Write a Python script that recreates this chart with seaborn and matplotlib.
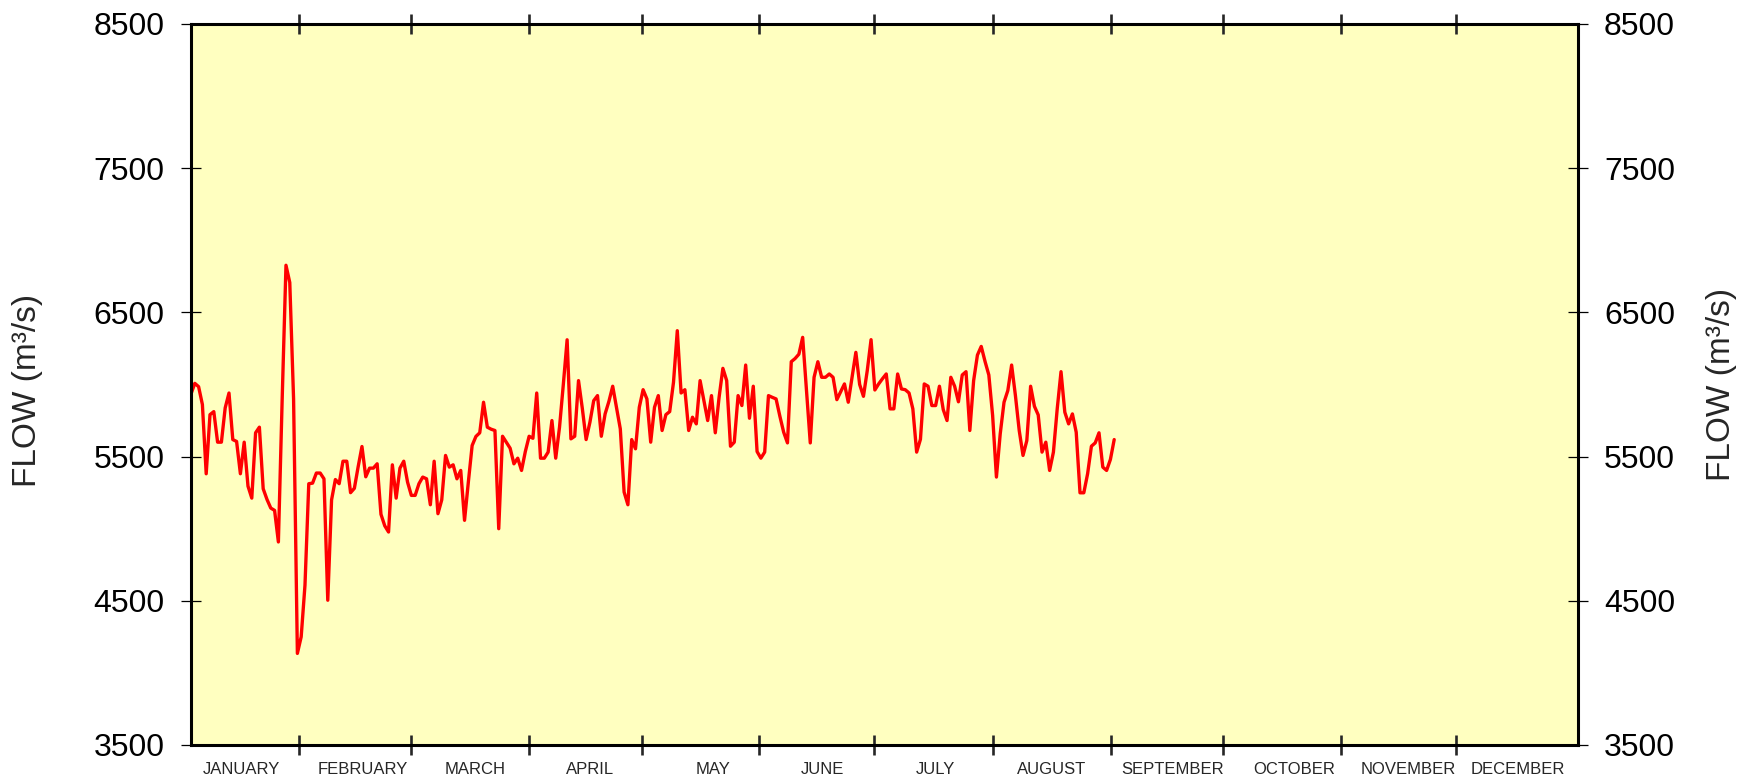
import numpy as np
import pandas as pd
import matplotlib
matplotlib.use("Agg")
import matplotlib.pyplot as plt
import seaborn as sns

sns.set_style("ticks")
plt.rcParams["font.family"] = ["Liberation Sans", "DejaVu Sans"]

# Daily mean flow (m3/s), 1 January onwards
flow_jan = [5934, 6008, 5985, 5861, 5381, 5791, 5812, 5600, 5600, 5838,
            5941, 5618, 5605, 5381, 5600, 5295, 5212, 5665, 5704, 5277,
            5203, 5143, 5127, 4908, 5900, 6827, 6707, 5900, 4135, 4250,
            4608]
flow_feb = [5312, 5316, 5386, 5386, 5346, 4504, 5200, 5341, 5312, 5468,
            5468, 5250, 5280, 5430, 5570, 5360, 5420, 5420, 5450, 5100,
            5020, 4977, 5443, 5212, 5420, 5468, 5323, 5231]
flow_mar = [5231, 5312, 5358, 5346, 5166, 5468, 5104, 5200, 5508, 5427,
            5443, 5346, 5404, 5058, 5323, 5577, 5640, 5665, 5877, 5704,
            5690, 5681, 5000, 5641, 5600, 5558, 5450, 5489, 5404, 5535,
            5641]
flow_apr = [5627, 5941, 5489, 5489, 5531, 5750, 5489, 5704, 6000, 6310,
            5623, 5641, 6027, 5834, 5618, 5738, 5888, 5923, 5641, 5796,
            5883, 5988, 5840, 5692, 5254, 5166, 5618, 5554, 5842, 5964]
flow_may = [5900, 5600, 5842, 5923, 5681, 5791, 5812, 6015, 6373, 5941,
            5964, 5681, 5773, 5727, 6027, 5890, 5750, 5923, 5665, 5911,
            6112, 6027, 5572, 5600, 5923, 5854, 6135, 5766, 5988, 5535,
            5489]
flow_jun = [5531, 5923, 5911, 5900, 5780, 5669, 5595, 6158, 6180, 6210,
            6327, 5961, 5595, 6050, 6158, 6050, 6050, 6073, 6050, 5895,
            5950, 6004, 5877, 6050, 6223, 6000, 5918, 6096, 6311, 5962]
flow_jul = [6004, 6040, 6073, 5831, 5831, 6073, 5969, 5964, 5941, 5831,
            5531, 5620, 6004, 5988, 5854, 5854, 5988, 5826, 5750, 6050,
            5988, 5880, 6066, 6089, 5681, 6027, 6204, 6264, 6160, 6066,
            5785]
flow_aug = [5358, 5658, 5877, 5958, 6135, 5923, 5681, 5508, 5611, 5988,
            5849, 5789, 5531, 5600, 5404, 5531, 5831, 6089, 5808, 5727,
            5796, 5669, 5249, 5249, 5381, 5572, 5595, 5665, 5427, 5404,
            5480, 5618]

flow = flow_jan + flow_feb + flow_mar + flow_apr + flow_may + flow_jun + flow_jul + flow_aug

months = ["JANUARY", "FEBRUARY", "MARCH", "APRIL", "MAY", "JUNE", "JULY",
          "AUGUST", "SEPTEMBER", "OCTOBER", "NOVEMBER", "DECEMBER"]
y_ticks = [3500, 4500, 5500, 6500, 7500, 8500]

# axis layout (day of year)
month_edges = [28.5, 58.0, 89.0, 118.6, 149.6, 179.8, 211.0, 242.1, 271.6, 302.6, 332.9]
month_label_pos = [13.3, 45.3, 74.8, 105.0, 137.5, 166.1, 196.0, 226.6, 258.5, 290.3, 320.5, 349.2]

df = pd.DataFrame({"day": np.arange(len(flow)), "flow": flow})

fig = plt.figure(figsize=(17.56, 7.83), dpi=100)
ax = fig.add_axes([191 / 1756, 1 - 745 / 783, (1577.7 - 191) / 1756, (745 - 24) / 783])
ax.set_facecolor("#FFFFC0")

sns.lineplot(data=df, x="day", y="flow", ax=ax, color="#FF0000", linewidth=2.4)

ax.set_xlim(0, 365)
ax.set_ylim(3500, 8500)

ax.set_yticks(y_ticks)
ax.set_yticklabels([str(v) for v in y_ticks])
ax.tick_params(axis="y", which="major", direction="inout", length=13.7, width=0.9,
               left=True, right=True, labelleft=True, labelright=True,
               labelsize=23, pad=12, colors="black")

ax.set_xticks(month_edges)
ax.set_xticklabels([""] * len(month_edges))
ax.tick_params(axis="x", which="major", direction="inout", length=13.7, width=1.9,
               top=True, bottom=True)
ax.set_xticks(month_label_pos, minor=True)
ax.set_xticklabels(months, minor=True)
ax.tick_params(axis="x", which="minor", length=0, pad=12, labelsize=12)

for spine in ax.spines.values():
    spine.set_linewidth(2.2)
    spine.set_color("black")

ax.set_xlabel("")
ax.set_ylabel("")

fig.text(28 / 1756, 1 - 390 / 783, "FLOW (m³/s)", rotation=90,
         ha="center", va="center", fontsize=24)
fig.text(1722 / 1756, 1 - 384 / 783, "FLOW (m³/s)", rotation=90,
         ha="center", va="center", fontsize=24)

fig.savefig("out.png", dpi=100)
